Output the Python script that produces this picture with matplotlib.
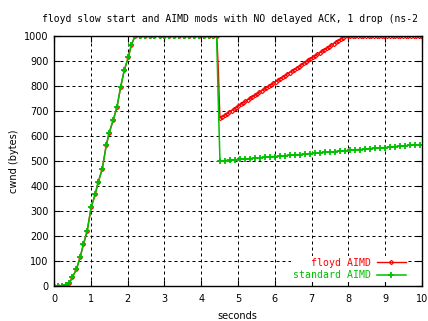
import matplotlib
matplotlib.use("Agg")
import matplotlib.pyplot as plt

# slow start (same for both runs)
ss_t = [0.0, 0.12, 0.21, 0.32, 0.42, 0.50, 0.61, 0.71, 0.80, 0.90, 1.01, 1.12,
        1.20, 1.31, 1.42, 1.50, 1.61, 1.71, 1.81, 1.91, 2.02, 2.10, 2.20]
ss_cwnd = [0, 0, 0, 5, 12, 35, 67, 115, 167, 219, 315, 367,
           415, 467, 563, 613, 664, 715, 795, 864, 915, 963, 1000]

# flat at the limit before the drop
flat_t = [2.33, 2.47, 2.60, 2.73, 2.87, 3.00, 3.13, 3.27, 3.40, 3.53, 3.67,
          3.80, 3.93, 4.07, 4.20, 4.33, 4.42]
flat_cwnd = [1000] * len(flat_t)

# floyd AIMD after the drop
floyd_t2 = [4.44, 4.47, 4.49,
            4.51, 4.57, 4.64, 4.70, 4.76, 4.83, 4.89, 4.95, 5.01, 5.08, 5.14,
            5.20, 5.27, 5.33, 5.39, 5.46, 5.52, 5.58, 5.64, 5.71, 5.77, 5.83,
            5.90, 5.96, 6.02, 6.09, 6.15, 6.21, 6.27, 6.34, 6.40, 6.46, 6.53,
            6.59, 6.65, 6.72, 6.78, 6.84, 6.90, 6.97, 7.03, 7.09, 7.16, 7.22,
            7.28, 7.35, 7.41, 7.47, 7.53, 7.60, 7.66, 7.72, 7.79, 7.85, 7.91,
            7.98, 8.05, 8.12, 8.19, 8.27, 8.34, 8.41, 8.48, 8.55, 8.62, 8.70,
            8.77, 8.84, 8.91, 8.98, 9.05, 9.13, 9.20, 9.27, 9.34, 9.41, 9.48,
            9.56, 9.63, 9.70, 9.77, 9.84, 9.91, 9.97]
floyd_cwnd2 = [950, 850, 750,
               672, 678, 684, 690, 696, 702, 708, 714, 721, 727, 733,
               739, 745, 751, 757, 763, 769, 775, 781, 787, 793, 799,
               806, 812, 818, 824, 830, 836, 842, 848, 854, 860, 866,
               872, 878, 884, 891, 897, 903, 909, 915, 921, 927, 933,
               939, 945, 951, 957, 963, 969, 976, 982, 988, 994, 1000,
               1000, 1000, 1000, 1000, 1000, 1000, 1000, 1000, 1000, 1000, 1000,
               1000, 1000, 1000, 1000, 1000, 1000, 1000, 1000, 1000, 1000, 1000,
               1000, 1000, 1000, 1000, 1000, 1000, 1000]

# standard AIMD after the drop
std_t2 = [4.46, 4.51, 4.65, 4.78, 4.92, 5.05, 5.19, 5.33, 5.46, 5.60, 5.73, 5.87,
          6.01, 6.14, 6.28, 6.41, 6.55, 6.69, 6.82, 6.96, 7.09, 7.23, 7.37,
          7.50, 7.64, 7.77, 7.91, 8.05, 8.18, 8.32, 8.45, 8.59, 8.73, 8.86,
          9.00, 9.13, 9.27, 9.41, 9.54, 9.68, 9.81, 9.95]
std_cwnd2 = [760, 500, 502, 503, 505, 507, 508, 510, 512, 513, 515, 517,
             518, 520, 521, 523, 525, 526, 528, 530, 531, 533, 535,
             536, 538, 540, 541, 543, 545, 546, 548, 550, 551, 553,
             554, 556, 558, 559, 561, 563, 564, 566]

floyd_t = ss_t + flat_t + floyd_t2
floyd_cwnd = ss_cwnd + flat_cwnd + floyd_cwnd2
std_t = ss_t + flat_t + std_t2
std_cwnd = ss_cwnd + flat_cwnd + std_cwnd2

RED = "#ff0000"
GREEN = "#00c000"
W, H = 428, 321

fig = plt.figure(figsize=(W / 100, H / 100), dpi=100)
ax = fig.add_axes([54 / W, 1 - 286 / H, 368 / W, 250 / H])

# no markers on the fast-drop points
n0 = len(ss_t) + len(flat_t)
floyd_marks = [i for i in range(len(floyd_t)) if not (n0 <= i < n0 + 3)]
std_marks = [i for i in range(len(std_t)) if i != n0]

ax.plot(floyd_t, floyd_cwnd, color=RED, lw=1.0, marker="D", ms=2.2,
        mfc="none", mew=0.8, markevery=floyd_marks, label="floyd AIMD", zorder=3)
ax.plot(std_t, std_cwnd, color=GREEN, lw=1.1, marker="+", ms=4.8,
        mew=1.3, markevery=std_marks, label="standard AIMD", zorder=4)

ax.set_xlim(0, 10)
ax.set_ylim(0, 1000)
ax.set_xticks(range(0, 11))
ax.set_yticks(range(0, 1001, 100))
ax.grid(True, color="black", lw=0.72, linestyle=(0, (3, 3)))
ax.tick_params(direction="in", length=4, width=0.8, top=True, right=True,
               labelsize=7, pad=4)
ax.tick_params(axis="x", pad=5.5)
for s in ax.spines.values():
    s.set_linewidth(1.0)
    s.set_zorder(5)

fig.text(42 / W, 1 - 19 / H,
         "floyd slow start and AIMD mods with NO delayed ACK, 1 drop (ns-2",
         ha="left", va="center", family="DejaVu Sans Mono", fontsize=7.0)
fig.text(237 / W, 1 - 316 / H, "seconds", ha="center", va="center", fontsize=7)
fig.text(14 / W, 1 - 161 / H, "cwnd (bytes)", ha="center", va="center",
         rotation=90, fontsize=7)

leg = ax.legend(loc="lower right", bbox_to_anchor=(1 - 9 / 368, -1 / 250),
                frameon=True, facecolor="white", edgecolor="none", framealpha=1,
                fancybox=False, markerfirst=False, handlelength=3.0,
                handletextpad=0.6, labelspacing=0.22, borderpad=0.2,
                prop={"family": "DejaVu Sans Mono", "size": 7.1})
leg.set_zorder(4.5)
for txt, c in zip(leg.get_texts(), [RED, GREEN]):
    txt.set_color(c)

fig.savefig("out.png", dpi=100)
